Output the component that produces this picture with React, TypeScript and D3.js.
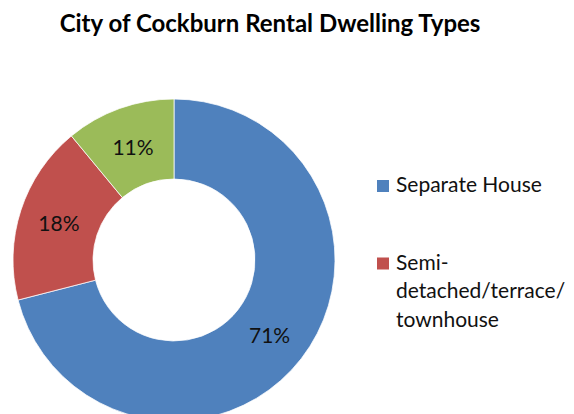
import React from "react";
import * as d3 from "d3";

const categories = ["Separate House", "Semi-detached/terrace/townhouse", "Other"];
const values = [71, 18, 11];
const labels = ["71%", "18%", "11%"];
const colors = ["#4F81BD", "#C0504D", "#9BBB59"];
const legendLines = [["Separate House"], ["Semi-", "detached/terrace/", "townhouse"]];
const title = "City of Cockburn Rental Dwelling Types";

export default function App() {
  const W = 574, H = 414;
  const cx = 174, cy = 260, R = 161, r = 81;
  const pie = d3.pie<number>().sort(null).value((d) => d)(values);
  const arc = d3.arc<d3.PieArcDatum<number>>().innerRadius(r).outerRadius(R);
  const font = "Lato, 'Open Sans', sans-serif";
  return (
    <div style={{ position: "fixed", left: 0, top: 0, width: W, height: H, background: "#fff" }}>
      <svg width={W} height={H} style={{ display: "block" }}>
        <rect width={W} height={H} fill="#fff" />
        <text x={270} y={32} textAnchor="middle" fontFamily={font} fontWeight="bold" fontSize={24} fill="#000">
          {title}
        </text>
        <g transform={`translate(${cx},${cy})`}>
          {pie.map((p, i) => (
            <path key={categories[i]} d={arc(p) || ""} fill={colors[i]} stroke="#fff" strokeWidth={0.75} />
          ))}
          {pie.map((p, i) => {
            const [x, y] = arc.centroid(p);
            return (
              <text key={"l" + i} x={x} y={y} textAnchor="middle" dominantBaseline="central" fontFamily={font} fontSize={21} fill="#111">
                {labels[i]}
              </text>
            );
          })}
        </g>
        {legendLines.map((lines, i) => {
          const y0 = 180 + i * 77.5;
          return (
            <g key={"lg" + i}>
              <rect x={377} y={y0} width={12} height={12} fill={colors[i]} />
              {lines.map((t, j) => (
                <text key={j} x={396} y={y0 + 12 + j * 28.7} fontFamily={font} fontSize={21} fill="#111">
                  {t}
                </text>
              ))}
            </g>
          );
        })}
      </svg>
    </div>
  );
}
